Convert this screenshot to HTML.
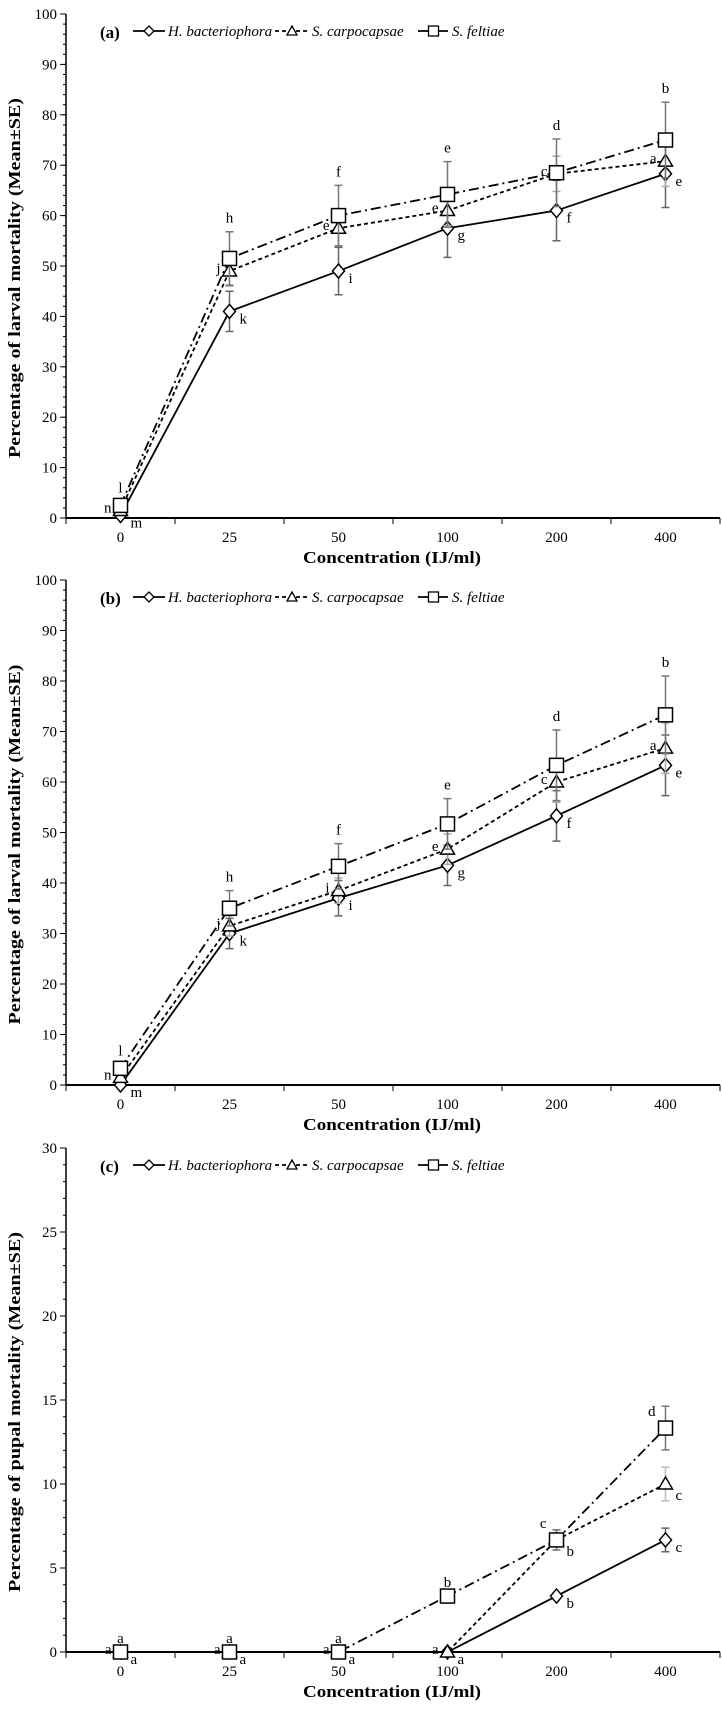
<!DOCTYPE html>
<html><head><meta charset="utf-8">
<style>
html,body{margin:0;padding:0;background:#fff;}
svg{display:block;font-family:"Liberation Serif",serif;}
</style></head>
<body>
<svg id="chart" width="722" height="1710" viewBox="0 0 722 1710" xmlns="http://www.w3.org/2000/svg"></svg>
<script>
const categories = ["0","25","50","100","200","400"];
// Panel (a) larval mortality
const aHb = [0.5, 41, 49, 57.5, 61, 68.3];
const aSc = [1.5, 49, 57.5, 61, 68.3, 70.8];
const aSf = [2.5, 51.5, 60, 64.2, 68.5, 75];
const aHbErr = [0.5, 4, 4.7, 5.8, 6, 6.7];
const aScErr = [0.8, 3, 3.5, 3, 3.5, 5];
const aSfErr = [0.8, 5.3, 6, 6.5, 6.7, 7.5];
// Panel (b) larval mortality
const bHb = [0, 30, 37, 43.5, 53.3, 63.3];
const bSc = [1.5, 31.5, 38.5, 46.7, 60, 66.7];
const bSf = [3.3, 35, 43.3, 51.7, 63.3, 73.3];
const bHbErr = [0, 3, 3.5, 4, 5, 6];
const bScErr = [0.8, 2, 2.5, 3, 4, 5];
const bSfErr = [0.8, 3.5, 4.5, 5, 7, 7.7];
// Panel (c) pupal mortality
const cHb = [0, 0, 0, 0, 3.33, 6.67];
const cSc = [0, 0, 0, 0, 6.67, 10];
const cSf = [0, 0, 0, 3.33, 6.67, 13.33];
const cHbErr = [0, 0, 0, 0, 0, 0.7];
const cScErr = [0, 0, 0, 0, 0.6, 1.0];
const cSfErr = [0, 0, 0, 0, 0.6, 1.3];
// Significance letters [Hb, Sc, Sf]
const aLetters = [["m","n","l"],["k","j","h"],["i","e","f"],["g","e","e"],["f","c","d"],["e","a","b"]];
const bLetters = [["m","n","l"],["k","j","h"],["i","i","f"],["g","e","e"],["f","c","d"],["e","a","b"]];
const cLetters = [["a","a","a"],["a","a","a"],["a","a","a"],["a","a","b"],["b","b","c"],["c","c","d"]];
const aTicks = [0,10,20,30,40,50,60,70,80,90,100];
const cTicks = [0,5,10,15,20,25,30];

const NS = "http://www.w3.org/2000/svg";
const svg = document.getElementById("chart");
function mk(tag, attrs, parent){
  const e = document.createElementNS(NS, tag);
  for (const k in attrs) e.setAttribute(k, attrs[k]);
  (parent||svg).appendChild(e);
  return e;
}
const X0 = 66, X1 = 720, STEP = 109;
function xPos(i){ return X0 + STEP/2 + i*STEP; }

function marker(g, type, x, y){
  let m;
  if (type==="diamond") m = mk("polygon",{points:`${x},${y-7} ${x+6},${y} ${x},${y+7} ${x-6},${y}`,fill:"#fff",stroke:"#000","stroke-width":1.5},g);
  else if (type==="triangle") m = mk("polygon",{points:`${x},${y-7} ${x+7},${y+5} ${x-7},${y+5}`,fill:"#fff",stroke:"#000","stroke-width":1.5},g);
  else m = mk("rect",{x:x-7,y:y-7,width:14,height:14,fill:"#fff",stroke:"#000","stroke-width":1.5},g);
  return m;
}

function panel(key, label, top, bottom, ymax, ticks, minorStep, ytitle, series, letters, pupal){
  const g = mk("g",{});
  
  
  const yPos = v => bottom - (v/ymax)*(bottom-top);
  const ax = mk("g",{},g);
  
  
  mk("line",{x1:X0,y1:top,x2:X0,y2:bottom,stroke:"#000","stroke-width":1.5},ax);
  mk("line",{x1:X0,y1:bottom,x2:X1,y2:bottom,stroke:"#000","stroke-width":2},ax);
  for (let v=0; v<=ymax+1e-9; v+=minorStep){
    mk("line",{x1:X0-3,y1:yPos(v),x2:X0,y2:yPos(v),stroke:"#000","stroke-width":1},ax);
  }
  ticks.forEach(t=>{
    mk("line",{x1:X0-6,y1:yPos(t),x2:X0,y2:yPos(t),stroke:"#000","stroke-width":1},ax);
    const tx = mk("text",{x:X0-9,y:yPos(t)+5,"text-anchor":"end","font-size":"15"},ax);
    
    
    tx.textContent = t;
  });
  for (let k=0;k<=categories.length;k++){
    mk("line",{x1:X0+k*STEP,y1:bottom,x2:X0+k*STEP,y2:bottom+6,stroke:"#000","stroke-width":1},ax);
  }
  categories.forEach((c,i)=>{
    const tx = mk("text",{x:xPos(i),y:bottom+24,"text-anchor":"middle","font-size":"15"},ax);
    
    
    tx.textContent = c;
  });
  const xt = mk("text",{x:392,y:bottom+45,"text-anchor":"middle","font-size":"17","font-weight":"bold",textLength:"178",lengthAdjust:"spacingAndGlyphs"},g);
  
  
  xt.textContent = "Concentration (IJ/ml)";
  const cy = (top+bottom)/2 + 12;
  const yt = mk("text",{x:20,y:cy,"text-anchor":"middle","font-size":"17","font-weight":"bold",textLength:"360",lengthAdjust:"spacingAndGlyphs",transform:`rotate(-90 20 ${cy})`},g);
  
  
  yt.textContent = ytitle;
  const pl = mk("text",{x:100,y:top+24,"font-size":"17","font-weight":"bold"},g);
  
  
  pl.textContent = label;
  const leg = [[133,168,"H. bacteriophora","diamond","none"],[275,312,"S. carpocapsae","triangle","4,3"],[418,452,"S. feltiae","square","10,4,2,4"]];
  leg.forEach(l=>{
    const lg = mk("g",{},g);
    
    
    const ly = top+17;
    mk("line",{x1:l[0],y1:ly,x2:l[1]-3,y2:ly,stroke:"#000","stroke-width":1.8,"stroke-dasharray":l[4]},lg);
    const mx=(l[0]+l[1]-3)/2;
    if (l[3]==="diamond") mk("polygon",{points:`${mx},${ly-5} ${mx+5},${ly} ${mx},${ly+5} ${mx-5},${ly}`,fill:"#fff",stroke:"#000","stroke-width":1.3},lg);
    else if (l[3]==="triangle") mk("polygon",{points:`${mx},${ly-5} ${mx+5},${ly+4} ${mx-5},${ly+4}`,fill:"#fff",stroke:"#000","stroke-width":1.3},lg);
    else mk("rect",{x:mx-5,y:ly-5,width:10,height:10,fill:"#fff",stroke:"#000","stroke-width":1.3},lg);
    const t = mk("text",{x:l[1],y:ly+5,"font-size":"15","font-style":"italic"},lg);
    t.textContent = l[2];
  });
  series.forEach((s,si)=>{
    const sg = mk("g",{},g);
    
    
    s.err.forEach((e,i)=>{
      if (e<=0) return;
      const x = xPos(i), y1 = yPos(s.vals[i]-e), y2 = yPos(s.vals[i]+e);
      const eb = mk("path",{d:`M${x},${y1}V${y2}M${x-4},${y1}H${x+4}M${x-4},${y2}H${x+4}`,stroke:s.errColor,"stroke-width":1.5,fill:"none"},sg);
      
      
    });
    const pts = s.vals.map((v,i)=>`${xPos(i)},${yPos(v)}`).join(" ");
    const ln = mk("polyline",{points:pts,fill:"none",stroke:"#000","stroke-width":1.8,"stroke-dasharray":s.dash},sg);
    
    
    s.vals.forEach((v,i)=>{
      const m = marker(sg, s.marker, xPos(i), yPos(v));
      
      
    });
  });
  letters.forEach((trio,i)=>{
    const x = xPos(i);
    const hb = series[0], sc = series[1], sf = series[2];
    let pos = [
      [x+10, yPos(hb.vals[i])+12, "start"],
      [x-9, yPos(sc.vals[i])+2, "end"],
      [x, yPos(sf.vals[i]+sf.err[i])-9, "middle"]
    ];
    if (pupal && i>=4){
      pos[1] = [x+10, yPos(sc.vals[i])+16, "start"];
      pos[2] = [x-10, yPos(sf.vals[i]+sf.err[i])+(i===5?10:-2), "end"];
    }
    trio.forEach((L,k)=>{
      const t = mk("text",{x:pos[k][0],y:pos[k][1],"text-anchor":pos[k][2],"font-size":"15"},g);
      
      
      t.textContent = L;
    });
  });
}
function S(name, vals, err, dash, mrk, col){ return {name, vals, err, dash, marker:mrk, errColor:col}; }

panel("a","(a)",14,518,100,aTicks,2,"Percentage of larval mortality (Mean±SE)",
  [S("h-bacteriophora",aHb,aHbErr,"none","diamond","#666"),
   S("s-carpocapsae",aSc,aScErr,"4,3","triangle","#aaa"),
   S("s-feltiae",aSf,aSfErr,"10,4,2,4","square","#777")], aLetters, false);
panel("b","(b)",580,1085,100,aTicks,2,"Percentage of larval mortality (Mean±SE)",
  [S("h-bacteriophora",bHb,bHbErr,"none","diamond","#666"),
   S("s-carpocapsae",bSc,bScErr,"4,3","triangle","#aaa"),
   S("s-feltiae",bSf,bSfErr,"10,4,2,4","square","#777")], bLetters, false);
panel("c","(c)",1148,1652,30,cTicks,1,"Percentage of pupal mortality (Mean±SE)",
  [S("h-bacteriophora",cHb,cHbErr,"none","diamond","#666"),
   S("s-carpocapsae",cSc,cScErr,"4,3","triangle","#bbb"),
   S("s-feltiae",cSf,cSfErr,"10,4,2,4","square","#777")], cLetters, true);
</script>
</body></html>
